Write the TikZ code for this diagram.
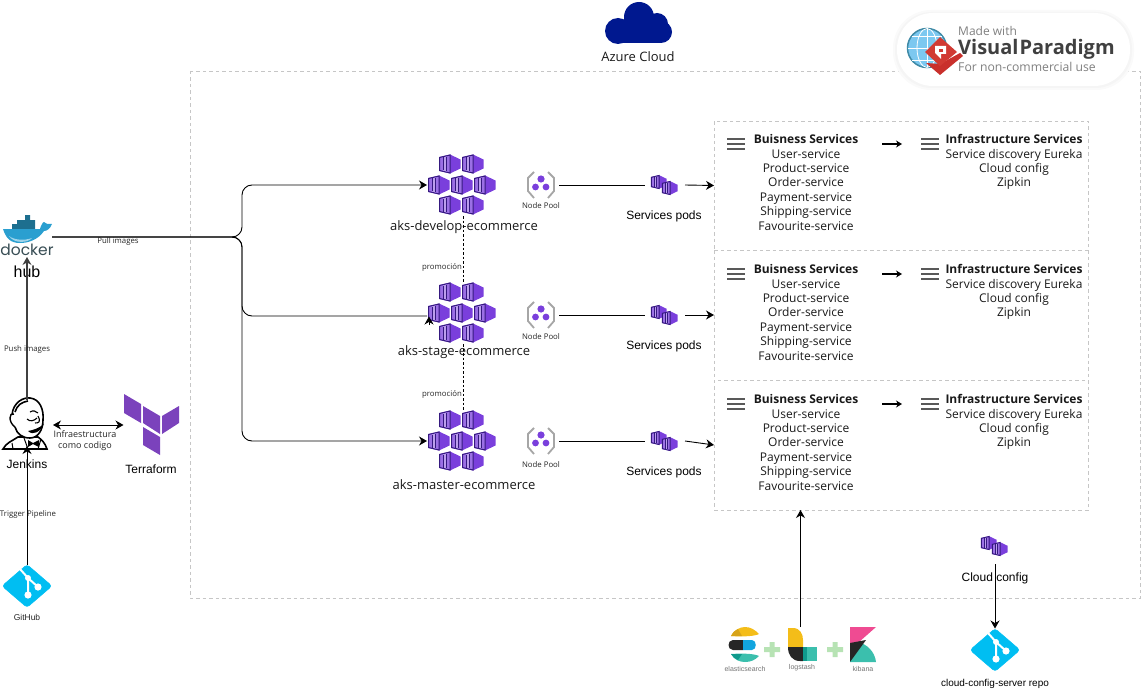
\documentclass[tikz,border=0pt]{standalone}
\usepackage{fontspec}
\usetikzlibrary{arrows.meta}
\setmainfont{Open Sans}
\newfontfamily\helv{Liberation Sans}
\newfontfamily\pop{Poppins}
\definecolor{akspurple}{HTML}{7A3FDC}
\definecolor{aksdark}{HTML}{35197F}
\definecolor{gitblue}{HTML}{00BEF2}
\definecolor{tfpurple}{HTML}{7B42BC}
\definecolor{dashgrey}{HTML}{C6C6C6}
\definecolor{cloudblue}{HTML}{00188F}
\definecolor{whaleteal}{HTML}{1D6F8F}
\definecolor{whaleblue}{HTML}{2A9FD0}
\definecolor{dockertext}{HTML}{384D54}
\definecolor{elkyellow}{HTML}{F4BD19}
\definecolor{elkgold}{HTML}{D7A419}
\definecolor{elkblue}{HTML}{12A5DF}
\definecolor{elkteal}{HTML}{3BBFAD}
\definecolor{elkdeep}{HTML}{0F9A8C}
\definecolor{plusgreen}{HTML}{B7E3B4}
\definecolor{kibanapink}{HTML}{EF4B92}
\definecolor{globeline}{HTML}{3F8AA6}
\definecolor{globefill}{HTML}{7CC8F0}
\definecolor{vpred}{HTML}{C9302C}
\definecolor{vpredlight}{HTML}{D13A33}
\tikzset{
  flow/.style={draw=black,line width=.9pt,-{Stealth[length=8pt,width=9pt]}},
  plainflow/.style={draw=black,line width=.9pt},
  fatflow/.style={draw=black,line width=2.4pt,-{Stealth[length=6pt,width=7pt]}},
  promo/.style={draw=black,line width=.8pt,dash pattern=on 2.5pt off 2pt},
  azureframe/.style={draw=dashgrey,line width=.8pt,dash pattern=on 3.5pt off 3pt},
  spot/.style={inner sep=0pt,outer sep=0pt},
  svcbox/.style={spot,minimum width=374pt},
  smalltext/.style={text=black!85,font=\fontsize{7.8}{10}\selectfont},
  iactext/.style={text=black!85,font=\fontsize{9}{11}\selectfont,align=center},
  nametext/.style={text=black!90,font=\fontsize{13}{15}\selectfont},
  hlabel/.style={text=black,font=\helv\fontsize{12}{14}\selectfont},
  svctext/.style={anchor=north,align=center,text=black!90,font=\fontsize{12}{14.4}\selectfont},
  akscube/.pic={
    \fill[akspurple] (-10.5,-7) -- (0,-9.5) -- (10.5,-4.5) -- (10.5,4.5) -- (0,9.5) -- (-10.5,7) -- cycle;
    \draw[aksdark,line width=1pt,fill=akspurple!75] (-10.5,-6.5) -- (0,-9) -- (0,9) -- (-10.5,6.5) -- cycle;
    \fill[white!50!akspurple] (-7,-6.5) -- (-3.5,-7.3) -- (-3.5,7.3) -- (-7,6.5) -- cycle;
    \draw[aksdark,line width=.8pt] (-7,-6.5) -- (-7,6.5) (-3.5,-7.3) -- (-3.5,7.3);
  },
  akscluster/.pic={
    \pic at (-13,-21) {akscube};
    \pic at (10,-21) {akscube};
    \pic at (-24,0) {akscube};
    \pic at (-1,0) {akscube};
    \pic at (22,0) {akscube};
    \pic at (-13,20) {akscube};
    \pic at (10,20) {akscube};
  },
  podpair/.pic={
    \pic[scale=.72] at (-6,-3) {akscube};
    \pic[scale=.72] at (5,3) {akscube};
  },
  nodepool/.pic={
    \draw[black!35,line width=1.8pt] (-7,-13) -- (-13,-7) -- (-13,6) -- (-7,13);
    \draw[black!35,line width=1.8pt] (7,-13) -- (13,-7) -- (13,6) -- (7,13);
    \fill[akspurple] (0,-6) circle (3.6pt) (-5.5,2) circle (3.4pt) (5,2) circle (3.4pt);
  },
  gitlogo/.pic={
    \draw[gitblue,fill=gitblue,line width=.5pt,rounded corners=3pt] (0,-21.5) -- (25,0) -- (0,21.5) -- (-25,0) -- cycle;
    \draw[white,line width=2pt] (-7,-17) -- (1,-8) -- (1,9) (1,-8) -- (11,1);
    \fill[white] (1,-8) circle (3pt) (11,1) circle (3.6pt) (1,9) circle (3.6pt);
  },
  burger/.pic={
    \draw[black!65,line width=2.2pt] (-9,-5) -- (9,-5) (-9,0) -- (9,0) (-9,5) -- (9,5);
  }
}
\newcommand{\svclist}{\textbf{Buisness Services}\\User-service\\Product-service\\Order-service\\Payment-service\\Shipping-service\\Favourite-service}
\newcommand{\infralist}{\textbf{Infrastructure Services}\\Service discovery Eureka\\Cloud config\\Zipkin}
\begin{document}
\begin{tikzpicture}[x=1pt,y=-1pt]
  \useasboundingbox (0,0) rectangle (1141,690);

  % azure frame
  \draw[azureframe] (190,71) rectangle (1140,598);
  \node[svcbox,azureframe,minimum height=129pt] (devbox) at (901,185.5) {};
  \node[svcbox,minimum height=130pt] (stagebox) at (901,315) {};
  \node[svcbox,azureframe,minimum height=130pt] (masterbox) at (901,445) {};
  \draw[azureframe] (stagebox.north west) -- (stagebox.south west) (stagebox.north east) -- (stagebox.south east);

  % azure cloud
  \fill[cloudblue] (618,31) circle (13pt) (639,17) circle (15pt) (657,24) circle (11pt)
    (661,32) circle (11pt) (618,30) rectangle (662,43);
  \node[nametext] (azure) at (638,57) {Azure Cloud};

  % left column
  \node[spot,minimum width=50pt,minimum height=40pt] (docker) at (27,237) {};
  \fill[whaleteal] (25,215) rectangle (30,220) (17,220) rectangle (35,224) (12,224) rectangle (35,229);
  \fill[whaleblue] (3,229) -- (40,229) .. controls (41,225) and (43,222) .. (44,222) .. controls (46,224) and (47,224) .. (52,224)
    .. controls (50,229) and (47,231) .. (44,231) .. controls (38,240) and (28,243) .. (20,243) .. controls (10,243) and (6,238) .. (3,229) -- cycle;
  \fill[whaleblue!45!white] (9,236) .. controls (14,240) and (24,241) .. (32,238) .. controls (28,243) and (14,244) .. (9,236) -- cycle;
  \node[text=dockertext,font=\pop\fontsize{15.5}{17}\selectfont] (dockerword) at (27,250) {docker};
  \node[font=\helv\fontsize{16}{18}\selectfont] (hub) at (27,272) {hub};

  \node[spot,minimum width=52pt,minimum height=42pt] (jenkins) at (27,425) {};
  \draw[black,fill=white,line width=1.6pt] (3,449) .. controls (6,443) and (12,441) .. (18,437) -- (38,437)
    .. controls (42,440) and (45,443) .. (47,449) -- cycle;
  \draw[black,line width=1pt] (24,438) -- (28,449) (41,439) -- (38,449) (12,443) -- (13,449);
  \draw[black,fill=white,line width=1.6pt] (12,415) .. controls (13,402) and (24,397) .. (30,398) .. controls (40,399) and (44,410) .. (43,420)
    .. controls (43,430) and (38,438) .. (30,438) .. controls (22,438) and (17,434) .. (15,427);
  \draw[black,fill=white,line width=1.4pt] (14,414) .. controls (9,412) and (8,422) .. (15,427);
  \draw[black,line width=1.6pt] (15,412) .. controls (17,405) and (22,402) .. (28,401);
  \draw[black,line width=1.1pt] (27,419) .. controls (30,422) and (34,421) .. (37,418)
    (30,412) .. controls (33,410) and (36,411) .. (38,413)
    (38,416) .. controls (41,422) and (39,423) .. (35,423);
  \fill[black] (28,431) .. controls (33,436) and (40,432) .. (44,424) .. controls (39,428) and (34,430) .. (28,431) -- cycle;
  \fill[black] (28,440) -- (33,443) -- (39,440) -- (39,447) -- (33,444) -- (28,447) -- cycle;
  \node[hlabel] (jenkinslabel) at (27,464) {Jenkins};

  \node[spot,minimum width=55pt,minimum height=62pt] (terraform) at (151,425) {};
  \fill[tfpurple] (124,394) -- (141,404) -- (141,423) -- (124,413) -- cycle
    (143,406) -- (160,416) -- (160,434) -- (143,423) -- cycle
    (162,416) -- (179,406) -- (179,423) -- (162,434) -- cycle
    (143,427) -- (160,437) -- (160,455) -- (143,445) -- cycle;
  \node[hlabel] (terraformlabel) at (151,469) {Terraform};

  \node[spot,minimum width=50pt,minimum height=43pt] (github) at (27,586) {};
  \pic at (github) {gitlogo};
  \node[text=black!85,font=\helv\fontsize{8.5}{10}\selectfont] (githublabel) at (27,617) {GitHub};

  % clusters
  \node[spot,minimum width=72pt,minimum height=62pt] (aksdev) at (463,185) {};
  \node[spot,minimum width=72pt,minimum height=62pt] (aksstage) at (463,313) {};
  \node[spot,minimum width=72pt,minimum height=62pt] (aksmaster) at (463,441) {};
  \pic at (aksdev) {akscluster};
  \pic at (aksstage) {akscluster};
  \pic at (aksmaster) {akscluster};
  \node[nametext] (devlabel) at (464,227) {aks-develop-ecommerce};
  \node[nametext] (stagelabel) at (464,352) {aks-stage-ecommerce};
  \node[nametext] (masterlabel) at (464,485) {aks-master-ecommerce};

  % pools and pods
  \node[spot,minimum width=36pt,minimum height=28pt] (devpool) at (541,185) {};
  \node[spot,minimum width=36pt,minimum height=28pt] (stagepool) at (541,315) {};
  \node[spot,minimum width=36pt,minimum height=28pt] (masterpool) at (541,441) {};
  \pic at (devpool) {nodepool};
  \pic at (stagepool) {nodepool};
  \pic at (masterpool) {nodepool};
  \node[smalltext] (devpoollabel) at (541,206) {Node Pool};
  \node[smalltext] (stagepoollabel) at (541,337) {Node Pool};
  \node[smalltext] (masterpoollabel) at (541,465) {Node Pool};
  \node[spot,minimum width=40pt,minimum height=24pt] (devpods) at (665,185) {};
  \node[spot,minimum width=40pt,minimum height=24pt] (stagepods) at (665,315) {};
  \node[spot,minimum width=40pt,minimum height=24pt] (masterpods) at (665,441) {};
  \pic at (devpods) {podpair};
  \pic at (stagepods) {podpair};
  \pic at (masterpods) {podpair};
  \node[hlabel] (devpodslabel) at (664,216) {Services pods};
  \node[hlabel] (stagepodslabel) at (664,346) {Services pods};
  \node[hlabel] (masterpodslabel) at (664,472) {Services pods};

  % service lists
  \node[svctext] (devbiz) at (806,131) {\svclist};
  \node[svctext] (stagebiz) at (806,261) {\svclist};
  \node[svctext] (masterbiz) at (806,391) {\svclist};
  \node[svctext] (devinfra) at (1014,131) {\infralist};
  \node[svctext] (stageinfra) at (1014,261) {\infralist};
  \node[svctext] (masterinfra) at (1014,391) {\infralist};
  \pic at (736,144) {burger};
  \pic at (736,274) {burger};
  \pic at (736,404) {burger};
  \pic at (930,144) {burger};
  \pic at (930,274) {burger};
  \pic at (930,404) {burger};
  \coordinate (devfrom) at (882,144);
  \coordinate (devto) at (902,144);
  \coordinate (stagefrom) at (882,274);
  \coordinate (stageto) at (902,274);
  \coordinate (masterfrom) at (882,404);
  \coordinate (masterto) at (902,404);

  % elk
  \node[spot,minimum width=151pt,minimum height=46pt] (elk) at (800.5,650) {};
  \fill[elkyellow] (731,636) .. controls (734,630) and (740,627) .. (745,627) .. controls (751,627) and (755,630) .. (759,634)
    .. controls (755,636) and (745,637) .. (731,636) -- cycle;
  \fill[elkgold] (731,636) .. controls (733,632) and (735,630) .. (738,629) -- (742,636) -- cycle;
  \fill[black!85] (733,640) -- (743,640) -- (743,650) -- (733,650) .. controls (727,650) and (727,640) .. (733,640) -- cycle;
  \fill[elkblue] (743,640) -- (752,640) .. controls (757,640) and (757,650) .. (752,650) -- (743,650) -- cycle;
  \fill[elkteal] (731,654) .. controls (745,653) and (755,654) .. (759,656) .. controls (755,660) and (751,662) .. (745,662)
    .. controls (740,662) and (734,660) .. (731,654) -- cycle;
  \fill[elkdeep] (731,654) -- (742,654) -- (738,660) .. controls (735,659) and (733,657) .. (731,654) -- cycle;
  \fill[plusgreen] (769.5,642) rectangle (774.5,657) (764,647) rectangle (780,652);
  \fill[elkyellow] (788,628) -- (793,628) .. controls (800,628) and (803,634) .. (803,640) -- (803,647) -- (788,647) -- cycle;
  \fill[black!85] (788,647) -- (803,647) -- (803,661) -- (800,661) .. controls (792,661) and (788,655) .. (788,647) -- cycle;
  \fill[elkteal] (803,647) rectangle (817,661);
  \fill[elkdeep] (803,647) rectangle (807,661);
  \fill[plusgreen] (832.5,642) rectangle (837.5,657) (827,647) rectangle (843,652);
  \fill[kibanapink] (850,627) -- (876,627) -- (850,650) -- cycle;
  \fill[elkteal] (850,662) -- (858,642) .. controls (867,644) and (875,652) .. (876,662) -- cycle;
  \fill[black!85] (850,643) -- (866,640) -- (850,662) -- cycle;
  \node[text=black!55,font=\helv\fontsize{7}{8}\selectfont] (esname) at (745,669) {elasticsearch};
  \node[text=black!55,font=\helv\fontsize{7}{8}\selectfont] (lsname) at (802,668) {logstash};
  \node[text=black!55,font=\helv\fontsize{7}{8}\selectfont] (kbname) at (863,669) {kibana};

  % cloud config
  \node[spot,minimum width=30pt,minimum height=36pt] (configpods) at (995,546) {};
  \pic at (configpods) {podpair};
  \node[hlabel] (configlabel) at (995,578) {Cloud config};
  \node[spot,minimum width=50pt,minimum height=43pt] (configrepo) at (995,650) {};
  \pic at (configrepo) {gitlogo};
  \node[text=black,font=\helv\fontsize{10}{12}\selectfont] (repolabel) at (995,684) {cloud-config-server repo};

  % connectors
  \coordinate (stageend) at (427,316);
  \coordinate (stagetail) at (429,325);
  \coordinate (stagetip) at (429,316.5);
  \draw[flow,rounded corners=10pt] (docker.east) -- (242,237) -- (242,185) -- (aksdev.west);
  \draw[plainflow,rounded corners=10pt] (docker.east) -- (242,237) -- (242,316) -- (stageend);
  \draw[flow] (stagetail) -- (stagetip);
  \draw[flow,rounded corners=10pt] (docker.east) -- (242,237) -- (242,441) -- (aksmaster.west);
  \draw[promo] (aksdev.south) -- (aksstage.north);
  \draw[promo] (aksstage.south) -- (aksmaster.north);
  \draw[flow,draw=black!75,line width=1.2pt] ([yshift=4pt]jenkins.north) -- (docker.south);
  \draw[flow] (github.north) -- (jenkins.south);
  \draw[flow,{Stealth[length=8pt,width=9pt]}-{Stealth[length=8pt,width=9pt]}] (jenkins.east) -- (terraform.west);
  \draw[plainflow] (devpool.east) -- (devpods.west);
  \draw[plainflow] (stagepool.east) -- (stagepods.west);
  \draw[plainflow] (masterpool.east) -- (masterpods.west);
  \draw[flow] (devpods.east) -- (devbox.west);
  \draw[flow] (stagepods.east) -- (stagebox.west);
  \draw[flow] (masterpods.east) -- (masterbox.west);
  \draw[flow] (elk.north) -- (elk.north |- masterbox.south);
  \draw[flow] (configpods.south) -- (configrepo.north);
  \draw[fatflow] (devfrom) -- (devto);
  \draw[fatflow] (stagefrom) -- (stageto);
  \draw[fatflow] (masterfrom) -- (masterto);

  \node[smalltext] (pullimages) at (118,241) {Pull images};
  \node[smalltext] (pushimages) at (27,349) {Push images};
  \node[smalltext] (triggerpipe) at (28,514) {Trigger Pipeline};
  \node[smalltext] (promoone) at (442,267) {promoción};
  \node[smalltext] (promotwo) at (442,394) {promoción};
  \node[iactext] (iaclabel) at (85,441) {Infraestructura\\como codigo};

  % badge
  \fill[black!2,rounded corners=38pt] (893,10) rectangle (1134,90);
  \fill[black!4,rounded corners=37pt] (895,12) rectangle (1132,88);
  \fill[white,rounded corners=36pt] (897,13) rectangle (1130,86);
  \draw[globeline,fill=globefill,line width=1.5pt] (927,48) circle (19.5pt);
  \draw[white,line width=.8pt] (927,28.5) -- (927,67.5) (908,48) -- (946,48) (912,36) -- (942,36) (912,60) -- (942,60);
  \draw[white,line width=.8pt] (927,48) ellipse (10pt and 19.5pt);
  \fill[vpred] (940,64) -- (960,53) -- (963,56) -- (940,75) -- (926,63) -- cycle;
  \fill[vpredlight] (940,37) -- (957,52) -- (940,66) -- (925,52) -- cycle;
  \fill[white] (935,46) -- (946,46) -- (946,54) -- (941,54) -- (941,59) -- (935,53) -- cycle;
  \fill[vpredlight] (939,49) rectangle (943,52);
  \node[anchor=west,inner sep=0pt,text=black!50,font=\fontsize{12}{13}\selectfont] (vpmade) at (958,31) {Made with};
  \node[anchor=west,inner sep=0pt,text=black!75,font=\bfseries\fontsize{20}{24}\selectfont] (vpname) at (958,49) {Visual\kern1ptParadigm};
  \node[anchor=west,inner sep=0pt,text=black!50,font=\fontsize{12.2}{13}\selectfont] (vpuse) at (958,67) {For non-commercial use};
\end{tikzpicture}
\end{document}
